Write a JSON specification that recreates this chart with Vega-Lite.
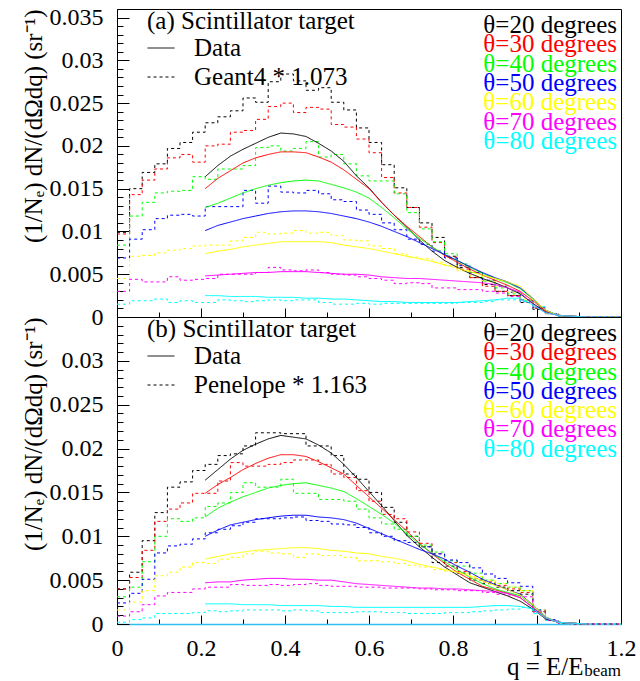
{
"$schema":"https://vega.github.io/schema/vega-lite/v6.json",
"background":"white",
"padding":{"left":20,"top":5,"right":5,"bottom":0},
"config":{"font":"Liberation Serif","view":{"stroke":"black","strokeWidth":1},
"axis":{"grid":false,"labelFont":"Liberation Serif","labelFontSize":24,"labelColor":"black","tickColor":"black","tickWidth":1,"domainColor":"black","titleFont":"Liberation Serif","titleFontSize":25,"titleFontWeight":"normal","titleColor":"black","labelOverlap":false,"labelFlush":false,"labelBound":false},
"legend":{"labelFont":"Liberation Serif","titleFont":"Liberation Serif"}},
"datasets":{
"keys":[{"a":20,"t":"θ=20 degrees"},{"a":30,"t":"θ=30 degrees"},{"a":40,"t":"θ=40 degrees"},{"a":50,"t":"θ=50 degrees"},{"a":60,"t":"θ=60 degrees"},{"a":70,"t":"θ=70 degrees"},{"a":80,"t":"θ=80 degrees"}],
"topSim":[
{"q":0,"v":0.0099,"a":20},{"q":0.03,"v":0.015,"a":20},{"q":0.06,"v":0.0169,"a":20},{"q":0.09,"v":0.0179,"a":20},{"q":0.12,"v":0.0197,"a":20},{"q":0.15,"v":0.0204,"a":20},{"q":0.18,"v":0.0216,"a":20},{"q":0.21,"v":0.0227,"a":20},{"q":0.24,"v":0.0234,"a":20},{"q":0.27,"v":0.0241,"a":20},{"q":0.3,"v":0.0256,"a":20},{"q":0.33,"v":0.0251,"a":20},{"q":0.36,"v":0.0275,"a":20},{"q":0.39,"v":0.0284,"a":20},{"q":0.42,"v":0.0276,"a":20},{"q":0.45,"v":0.0265,"a":20},{"q":0.48,"v":0.0268,"a":20},{"q":0.51,"v":0.0251,"a":20},{"q":0.54,"v":0.0242,"a":20},{"q":0.57,"v":0.0221,"a":20},{"q":0.6,"v":0.0204,"a":20},{"q":0.63,"v":0.0178,"a":20},{"q":0.66,"v":0.0151,"a":20},{"q":0.69,"v":0.0128,"a":20},{"q":0.72,"v":0.011,"a":20},{"q":0.75,"v":0.0093,"a":20},{"q":0.78,"v":0.0071,"a":20},{"q":0.81,"v":0.0058,"a":20},{"q":0.84,"v":0.0046,"a":20},{"q":0.87,"v":0.0038,"a":20},{"q":0.9,"v":0.003,"a":20},{"q":0.93,"v":0.0025,"a":20},{"q":0.96,"v":0.0017,"a":20},{"q":0.99,"v":0.0009,"a":20},{"q":1.02,"v":0.0004,"a":20},{"q":1.05,"v":0.0001,"a":20},{"q":1.08,"v":0,"a":20},{"q":1.2,"v":0,"a":20},
{"q":0,"v":0.0097,"a":30},{"q":0.03,"v":0.0143,"a":30},{"q":0.06,"v":0.016,"a":30},{"q":0.09,"v":0.0173,"a":30},{"q":0.12,"v":0.0186,"a":30},{"q":0.15,"v":0.019,"a":30},{"q":0.18,"v":0.0181,"a":30},{"q":0.21,"v":0.02,"a":30},{"q":0.24,"v":0.0202,"a":30},{"q":0.27,"v":0.0216,"a":30},{"q":0.3,"v":0.0218,"a":30},{"q":0.33,"v":0.0231,"a":30},{"q":0.36,"v":0.0246,"a":30},{"q":0.39,"v":0.025,"a":30},{"q":0.42,"v":0.0239,"a":30},{"q":0.45,"v":0.0245,"a":30},{"q":0.48,"v":0.0243,"a":30},{"q":0.51,"v":0.0225,"a":30},{"q":0.54,"v":0.0222,"a":30},{"q":0.57,"v":0.0208,"a":30},{"q":0.6,"v":0.0192,"a":30},{"q":0.63,"v":0.0163,"a":30},{"q":0.66,"v":0.0145,"a":30},{"q":0.69,"v":0.0128,"a":30},{"q":0.72,"v":0.0105,"a":30},{"q":0.75,"v":0.0087,"a":30},{"q":0.78,"v":0.007,"a":30},{"q":0.81,"v":0.0056,"a":30},{"q":0.84,"v":0.0046,"a":30},{"q":0.87,"v":0.0036,"a":30},{"q":0.9,"v":0.003,"a":30},{"q":0.93,"v":0.0025,"a":30},{"q":0.96,"v":0.0018,"a":30},{"q":0.99,"v":0.001,"a":30},{"q":1.02,"v":0.0004,"a":30},{"q":1.05,"v":0.0001,"a":30},{"q":1.08,"v":0,"a":30},{"q":1.2,"v":0,"a":30},
{"q":0,"v":0.0084,"a":40},{"q":0.03,"v":0.0118,"a":40},{"q":0.06,"v":0.0134,"a":40},{"q":0.09,"v":0.0145,"a":40},{"q":0.12,"v":0.0147,"a":40},{"q":0.15,"v":0.0148,"a":40},{"q":0.18,"v":0.0164,"a":40},{"q":0.21,"v":0.0161,"a":40},{"q":0.24,"v":0.0173,"a":40},{"q":0.27,"v":0.0173,"a":40},{"q":0.3,"v":0.0177,"a":40},{"q":0.33,"v":0.0198,"a":40},{"q":0.36,"v":0.02,"a":40},{"q":0.39,"v":0.0194,"a":40},{"q":0.42,"v":0.0197,"a":40},{"q":0.45,"v":0.0205,"a":40},{"q":0.48,"v":0.0187,"a":40},{"q":0.51,"v":0.019,"a":40},{"q":0.54,"v":0.0179,"a":40},{"q":0.57,"v":0.0165,"a":40},{"q":0.6,"v":0.0159,"a":40},{"q":0.63,"v":0.0159,"a":40},{"q":0.66,"v":0.0144,"a":40},{"q":0.69,"v":0.0122,"a":40},{"q":0.72,"v":0.0103,"a":40},{"q":0.75,"v":0.0088,"a":40},{"q":0.78,"v":0.0074,"a":40},{"q":0.81,"v":0.0062,"a":40},{"q":0.84,"v":0.0052,"a":40},{"q":0.87,"v":0.0042,"a":40},{"q":0.9,"v":0.0034,"a":40},{"q":0.93,"v":0.0027,"a":40},{"q":0.96,"v":0.0019,"a":40},{"q":0.99,"v":0.0011,"a":40},{"q":1.02,"v":0.0004,"a":40},{"q":1.05,"v":0.0001,"a":40},{"q":1.08,"v":0,"a":40},{"q":1.2,"v":0,"a":40},
{"q":0,"v":0.0069,"a":50},{"q":0.03,"v":0.0091,"a":50},{"q":0.06,"v":0.0102,"a":50},{"q":0.09,"v":0.0115,"a":50},{"q":0.12,"v":0.0119,"a":50},{"q":0.15,"v":0.012,"a":50},{"q":0.18,"v":0.0118,"a":50},{"q":0.21,"v":0.0129,"a":50},{"q":0.24,"v":0.0129,"a":50},{"q":0.27,"v":0.0129,"a":50},{"q":0.3,"v":0.0148,"a":50},{"q":0.33,"v":0.0133,"a":50},{"q":0.36,"v":0.0153,"a":50},{"q":0.39,"v":0.0146,"a":50},{"q":0.42,"v":0.0145,"a":50},{"q":0.45,"v":0.0148,"a":50},{"q":0.48,"v":0.0144,"a":50},{"q":0.51,"v":0.0137,"a":50},{"q":0.54,"v":0.0135,"a":50},{"q":0.57,"v":0.0125,"a":50},{"q":0.6,"v":0.012,"a":50},{"q":0.63,"v":0.011,"a":50},{"q":0.66,"v":0.0102,"a":50},{"q":0.69,"v":0.0091,"a":50},{"q":0.72,"v":0.0085,"a":50},{"q":0.75,"v":0.0077,"a":50},{"q":0.78,"v":0.0069,"a":50},{"q":0.81,"v":0.006,"a":50},{"q":0.84,"v":0.0052,"a":50},{"q":0.87,"v":0.0043,"a":50},{"q":0.9,"v":0.0036,"a":50},{"q":0.93,"v":0.0029,"a":50},{"q":0.96,"v":0.002,"a":50},{"q":0.99,"v":0.0011,"a":50},{"q":1.02,"v":0.0004,"a":50},{"q":1.05,"v":0.0001,"a":50},{"q":1.08,"v":0,"a":50},{"q":1.2,"v":0,"a":50},
{"q":0,"v":0.0045,"a":60},{"q":0.03,"v":0.0071,"a":60},{"q":0.06,"v":0.0072,"a":60},{"q":0.09,"v":0.0075,"a":60},{"q":0.12,"v":0.0078,"a":60},{"q":0.15,"v":0.008,"a":60},{"q":0.18,"v":0.0083,"a":60},{"q":0.21,"v":0.0084,"a":60},{"q":0.24,"v":0.0084,"a":60},{"q":0.27,"v":0.0089,"a":60},{"q":0.3,"v":0.0093,"a":60},{"q":0.33,"v":0.0099,"a":60},{"q":0.36,"v":0.0097,"a":60},{"q":0.39,"v":0.0098,"a":60},{"q":0.42,"v":0.0101,"a":60},{"q":0.45,"v":0.0098,"a":60},{"q":0.48,"v":0.0099,"a":60},{"q":0.51,"v":0.0095,"a":60},{"q":0.54,"v":0.009,"a":60},{"q":0.57,"v":0.0089,"a":60},{"q":0.6,"v":0.0083,"a":60},{"q":0.63,"v":0.008,"a":60},{"q":0.66,"v":0.0074,"a":60},{"q":0.69,"v":0.007,"a":60},{"q":0.72,"v":0.0068,"a":60},{"q":0.75,"v":0.0064,"a":60},{"q":0.78,"v":0.006,"a":60},{"q":0.81,"v":0.0054,"a":60},{"q":0.84,"v":0.0048,"a":60},{"q":0.87,"v":0.0042,"a":60},{"q":0.9,"v":0.0036,"a":60},{"q":0.93,"v":0.0029,"a":60},{"q":0.96,"v":0.0021,"a":60},{"q":0.99,"v":0.0012,"a":60},{"q":1.02,"v":0.0004,"a":60},{"q":1.05,"v":0.0001,"a":60},{"q":1.08,"v":0,"a":60},{"q":1.2,"v":0,"a":60},
{"q":0,"v":0.003,"a":70},{"q":0.03,"v":0.0044,"a":70},{"q":0.06,"v":0.0041,"a":70},{"q":0.09,"v":0.0041,"a":70},{"q":0.12,"v":0.0047,"a":70},{"q":0.15,"v":0.0043,"a":70},{"q":0.18,"v":0.0044,"a":70},{"q":0.21,"v":0.0045,"a":70},{"q":0.24,"v":0.005,"a":70},{"q":0.27,"v":0.005,"a":70},{"q":0.3,"v":0.005,"a":70},{"q":0.33,"v":0.0052,"a":70},{"q":0.36,"v":0.0058,"a":70},{"q":0.39,"v":0.0055,"a":70},{"q":0.42,"v":0.0054,"a":70},{"q":0.45,"v":0.0055,"a":70},{"q":0.48,"v":0.0052,"a":70},{"q":0.51,"v":0.005,"a":70},{"q":0.54,"v":0.0049,"a":70},{"q":0.57,"v":0.0047,"a":70},{"q":0.6,"v":0.0045,"a":70},{"q":0.63,"v":0.0043,"a":70},{"q":0.66,"v":0.0039,"a":70},{"q":0.69,"v":0.004,"a":70},{"q":0.72,"v":0.0039,"a":70},{"q":0.75,"v":0.0034,"a":70},{"q":0.78,"v":0.0034,"a":70},{"q":0.81,"v":0.0032,"a":70},{"q":0.84,"v":0.0032,"a":70},{"q":0.87,"v":0.003,"a":70},{"q":0.9,"v":0.0028,"a":70},{"q":0.93,"v":0.0024,"a":70},{"q":0.96,"v":0.0018,"a":70},{"q":0.99,"v":0.0011,"a":70},{"q":1.02,"v":0.0004,"a":70},{"q":1.05,"v":0.0001,"a":70},{"q":1.08,"v":0,"a":70},{"q":1.2,"v":0,"a":70},
{"q":0,"v":0.0015,"a":80},{"q":0.03,"v":0.0019,"a":80},{"q":0.06,"v":0.0019,"a":80},{"q":0.09,"v":0.0021,"a":80},{"q":0.12,"v":0.0017,"a":80},{"q":0.15,"v":0.0019,"a":80},{"q":0.18,"v":0.0017,"a":80},{"q":0.21,"v":0.0017,"a":80},{"q":0.24,"v":0.002,"a":80},{"q":0.27,"v":0.0019,"a":80},{"q":0.3,"v":0.0018,"a":80},{"q":0.33,"v":0.0019,"a":80},{"q":0.36,"v":0.002,"a":80},{"q":0.39,"v":0.0019,"a":80},{"q":0.42,"v":0.002,"a":80},{"q":0.45,"v":0.002,"a":80},{"q":0.48,"v":0.0017,"a":80},{"q":0.51,"v":0.0015,"a":80},{"q":0.54,"v":0.0015,"a":80},{"q":0.57,"v":0.0016,"a":80},{"q":0.6,"v":0.0015,"a":80},{"q":0.63,"v":0.0016,"a":80},{"q":0.66,"v":0.0016,"a":80},{"q":0.69,"v":0.0016,"a":80},{"q":0.72,"v":0.0016,"a":80},{"q":0.75,"v":0.0016,"a":80},{"q":0.78,"v":0.0016,"a":80},{"q":0.81,"v":0.0017,"a":80},{"q":0.84,"v":0.0017,"a":80},{"q":0.87,"v":0.0018,"a":80},{"q":0.9,"v":0.002,"a":80},{"q":0.93,"v":0.002,"a":80},{"q":0.96,"v":0.0018,"a":80},{"q":0.99,"v":0.0012,"a":80},{"q":1.02,"v":0.0004,"a":80},{"q":1.05,"v":0.0001,"a":80},{"q":1.08,"v":0,"a":80},{"q":1.2,"v":0,"a":80}
],
"botSim":[
{"q":0,"v":0.004,"a":20},{"q":0.03,"v":0.0059,"a":20},{"q":0.06,"v":0.0095,"a":20},{"q":0.09,"v":0.0127,"a":20},{"q":0.12,"v":0.0156,"a":20},{"q":0.15,"v":0.0162,"a":20},{"q":0.18,"v":0.0175,"a":20},{"q":0.21,"v":0.0182,"a":20},{"q":0.24,"v":0.0192,"a":20},{"q":0.27,"v":0.0194,"a":20},{"q":0.3,"v":0.0203,"a":20},{"q":0.33,"v":0.0218,"a":20},{"q":0.36,"v":0.0218,"a":20},{"q":0.39,"v":0.0217,"a":20},{"q":0.42,"v":0.0217,"a":20},{"q":0.45,"v":0.0203,"a":20},{"q":0.48,"v":0.0203,"a":20},{"q":0.51,"v":0.0192,"a":20},{"q":0.54,"v":0.0171,"a":20},{"q":0.57,"v":0.0165,"a":20},{"q":0.6,"v":0.015,"a":20},{"q":0.63,"v":0.0133,"a":20},{"q":0.66,"v":0.0116,"a":20},{"q":0.69,"v":0.01,"a":20},{"q":0.72,"v":0.0088,"a":20},{"q":0.75,"v":0.007,"a":20},{"q":0.78,"v":0.0066,"a":20},{"q":0.81,"v":0.0058,"a":20},{"q":0.84,"v":0.005,"a":20},{"q":0.87,"v":0.0046,"a":20},{"q":0.9,"v":0.0042,"a":20},{"q":0.93,"v":0.0038,"a":20},{"q":0.96,"v":0.0034,"a":20},{"q":0.99,"v":0.0014,"a":20},{"q":1.02,"v":0.0004,"a":20},{"q":1.05,"v":0.0001,"a":20},{"q":1.08,"v":0,"a":20},{"q":1.2,"v":0,"a":20},
{"q":0,"v":0.004,"a":30},{"q":0.03,"v":0.0053,"a":30},{"q":0.06,"v":0.0084,"a":30},{"q":0.09,"v":0.0117,"a":30},{"q":0.12,"v":0.0131,"a":30},{"q":0.15,"v":0.0138,"a":30},{"q":0.18,"v":0.0149,"a":30},{"q":0.21,"v":0.0149,"a":30},{"q":0.24,"v":0.0163,"a":30},{"q":0.27,"v":0.0184,"a":30},{"q":0.3,"v":0.018,"a":30},{"q":0.33,"v":0.018,"a":30},{"q":0.36,"v":0.0182,"a":30},{"q":0.39,"v":0.0184,"a":30},{"q":0.42,"v":0.0187,"a":30},{"q":0.45,"v":0.0187,"a":30},{"q":0.48,"v":0.0182,"a":30},{"q":0.51,"v":0.0171,"a":30},{"q":0.54,"v":0.0167,"a":30},{"q":0.57,"v":0.0152,"a":30},{"q":0.6,"v":0.014,"a":30},{"q":0.63,"v":0.0125,"a":30},{"q":0.66,"v":0.012,"a":30},{"q":0.69,"v":0.0105,"a":30},{"q":0.72,"v":0.0092,"a":30},{"q":0.75,"v":0.008,"a":30},{"q":0.78,"v":0.007,"a":30},{"q":0.81,"v":0.006,"a":30},{"q":0.84,"v":0.0052,"a":30},{"q":0.87,"v":0.0048,"a":30},{"q":0.9,"v":0.0044,"a":30},{"q":0.93,"v":0.004,"a":30},{"q":0.96,"v":0.0036,"a":30},{"q":0.99,"v":0.0014,"a":30},{"q":1.02,"v":0.0004,"a":30},{"q":1.05,"v":0.0001,"a":30},{"q":1.08,"v":0,"a":30},{"q":1.2,"v":0,"a":30},
{"q":0,"v":0.0031,"a":40},{"q":0.03,"v":0.0042,"a":40},{"q":0.06,"v":0.0071,"a":40},{"q":0.09,"v":0.01,"a":40},{"q":0.12,"v":0.012,"a":40},{"q":0.15,"v":0.0117,"a":40},{"q":0.18,"v":0.0121,"a":40},{"q":0.21,"v":0.0134,"a":40},{"q":0.24,"v":0.0138,"a":40},{"q":0.27,"v":0.015,"a":40},{"q":0.3,"v":0.0161,"a":40},{"q":0.33,"v":0.0156,"a":40},{"q":0.36,"v":0.0156,"a":40},{"q":0.39,"v":0.0165,"a":40},{"q":0.42,"v":0.0149,"a":40},{"q":0.45,"v":0.0149,"a":40},{"q":0.48,"v":0.0142,"a":40},{"q":0.51,"v":0.0142,"a":40},{"q":0.54,"v":0.014,"a":40},{"q":0.57,"v":0.0131,"a":40},{"q":0.6,"v":0.0121,"a":40},{"q":0.63,"v":0.0114,"a":40},{"q":0.66,"v":0.0108,"a":40},{"q":0.69,"v":0.01,"a":40},{"q":0.72,"v":0.009,"a":40},{"q":0.75,"v":0.0082,"a":40},{"q":0.78,"v":0.0072,"a":40},{"q":0.81,"v":0.0066,"a":40},{"q":0.84,"v":0.0058,"a":40},{"q":0.87,"v":0.005,"a":40},{"q":0.9,"v":0.0046,"a":40},{"q":0.93,"v":0.0042,"a":40},{"q":0.96,"v":0.0038,"a":40},{"q":0.99,"v":0.0016,"a":40},{"q":1.02,"v":0.0004,"a":40},{"q":1.05,"v":0.0001,"a":40},{"q":1.08,"v":0,"a":40},{"q":1.2,"v":0,"a":40},
{"q":0,"v":0.0024,"a":50},{"q":0.03,"v":0.0035,"a":50},{"q":0.06,"v":0.0051,"a":50},{"q":0.09,"v":0.0081,"a":50},{"q":0.12,"v":0.0089,"a":50},{"q":0.15,"v":0.0091,"a":50},{"q":0.18,"v":0.0097,"a":50},{"q":0.21,"v":0.0104,"a":50},{"q":0.24,"v":0.0108,"a":50},{"q":0.27,"v":0.0112,"a":50},{"q":0.3,"v":0.0116,"a":50},{"q":0.33,"v":0.012,"a":50},{"q":0.36,"v":0.012,"a":50},{"q":0.39,"v":0.0121,"a":50},{"q":0.42,"v":0.0122,"a":50},{"q":0.45,"v":0.0118,"a":50},{"q":0.48,"v":0.0117,"a":50},{"q":0.51,"v":0.0114,"a":50},{"q":0.54,"v":0.0113,"a":50},{"q":0.57,"v":0.011,"a":50},{"q":0.6,"v":0.0104,"a":50},{"q":0.63,"v":0.01,"a":50},{"q":0.66,"v":0.0095,"a":50},{"q":0.69,"v":0.0093,"a":50},{"q":0.72,"v":0.0088,"a":50},{"q":0.75,"v":0.008,"a":50},{"q":0.78,"v":0.0073,"a":50},{"q":0.81,"v":0.007,"a":50},{"q":0.84,"v":0.0064,"a":50},{"q":0.87,"v":0.0057,"a":50},{"q":0.9,"v":0.0052,"a":50},{"q":0.93,"v":0.0047,"a":50},{"q":0.96,"v":0.0043,"a":50},{"q":0.99,"v":0.0016,"a":50},{"q":1.02,"v":0.0005,"a":50},{"q":1.05,"v":0.0001,"a":50},{"q":1.08,"v":0,"a":50},{"q":1.2,"v":0,"a":50},
{"q":0,"v":0.0016,"a":60},{"q":0.03,"v":0.0025,"a":60},{"q":0.06,"v":0.0038,"a":60},{"q":0.09,"v":0.0055,"a":60},{"q":0.12,"v":0.0059,"a":60},{"q":0.15,"v":0.0065,"a":60},{"q":0.18,"v":0.007,"a":60},{"q":0.21,"v":0.0069,"a":60},{"q":0.24,"v":0.0074,"a":60},{"q":0.27,"v":0.0076,"a":60},{"q":0.3,"v":0.008,"a":60},{"q":0.33,"v":0.0083,"a":60},{"q":0.36,"v":0.0081,"a":60},{"q":0.39,"v":0.008,"a":60},{"q":0.42,"v":0.0076,"a":60},{"q":0.45,"v":0.008,"a":60},{"q":0.48,"v":0.0078,"a":60},{"q":0.51,"v":0.0078,"a":60},{"q":0.54,"v":0.0076,"a":60},{"q":0.57,"v":0.0072,"a":60},{"q":0.6,"v":0.0072,"a":60},{"q":0.63,"v":0.0071,"a":60},{"q":0.66,"v":0.0069,"a":60},{"q":0.69,"v":0.0067,"a":60},{"q":0.72,"v":0.0065,"a":60},{"q":0.75,"v":0.0062,"a":60},{"q":0.78,"v":0.006,"a":60},{"q":0.81,"v":0.0058,"a":60},{"q":0.84,"v":0.0054,"a":60},{"q":0.87,"v":0.005,"a":60},{"q":0.9,"v":0.0046,"a":60},{"q":0.93,"v":0.0042,"a":60},{"q":0.96,"v":0.0038,"a":60},{"q":0.99,"v":0.0016,"a":60},{"q":1.02,"v":0.0004,"a":60},{"q":1.05,"v":0.0001,"a":60},{"q":1.08,"v":0,"a":60},{"q":1.2,"v":0,"a":60},
{"q":0,"v":0.0009,"a":70},{"q":0.03,"v":0.0014,"a":70},{"q":0.06,"v":0.0022,"a":70},{"q":0.09,"v":0.0032,"a":70},{"q":0.12,"v":0.0036,"a":70},{"q":0.15,"v":0.0036,"a":70},{"q":0.18,"v":0.004,"a":70},{"q":0.21,"v":0.0042,"a":70},{"q":0.24,"v":0.0042,"a":70},{"q":0.27,"v":0.0045,"a":70},{"q":0.3,"v":0.0044,"a":70},{"q":0.33,"v":0.0044,"a":70},{"q":0.36,"v":0.0045,"a":70},{"q":0.39,"v":0.0044,"a":70},{"q":0.42,"v":0.0045,"a":70},{"q":0.45,"v":0.0046,"a":70},{"q":0.48,"v":0.0044,"a":70},{"q":0.51,"v":0.0043,"a":70},{"q":0.54,"v":0.0043,"a":70},{"q":0.57,"v":0.0042,"a":70},{"q":0.6,"v":0.0042,"a":70},{"q":0.63,"v":0.0041,"a":70},{"q":0.66,"v":0.0041,"a":70},{"q":0.69,"v":0.0041,"a":70},{"q":0.72,"v":0.004,"a":70},{"q":0.75,"v":0.0039,"a":70},{"q":0.78,"v":0.0039,"a":70},{"q":0.81,"v":0.0038,"a":70},{"q":0.84,"v":0.0038,"a":70},{"q":0.87,"v":0.0036,"a":70},{"q":0.9,"v":0.0034,"a":70},{"q":0.93,"v":0.0033,"a":70},{"q":0.96,"v":0.0031,"a":70},{"q":0.99,"v":0.0014,"a":70},{"q":1.02,"v":0.0004,"a":70},{"q":1.05,"v":0.0001,"a":70},{"q":1.08,"v":0,"a":70},{"q":1.2,"v":0,"a":70},
{"q":0,"v":0.0002,"a":80},{"q":0.03,"v":0.0005,"a":80},{"q":0.06,"v":0.0007,"a":80},{"q":0.09,"v":0.0012,"a":80},{"q":0.12,"v":0.0012,"a":80},{"q":0.15,"v":0.0012,"a":80},{"q":0.18,"v":0.0013,"a":80},{"q":0.21,"v":0.0015,"a":80},{"q":0.24,"v":0.0014,"a":80},{"q":0.27,"v":0.0015,"a":80},{"q":0.3,"v":0.0016,"a":80},{"q":0.33,"v":0.0016,"a":80},{"q":0.36,"v":0.0016,"a":80},{"q":0.39,"v":0.0015,"a":80},{"q":0.42,"v":0.0016,"a":80},{"q":0.45,"v":0.0015,"a":80},{"q":0.48,"v":0.0013,"a":80},{"q":0.51,"v":0.0013,"a":80},{"q":0.54,"v":0.0013,"a":80},{"q":0.57,"v":0.0014,"a":80},{"q":0.6,"v":0.0014,"a":80},{"q":0.63,"v":0.0013,"a":80},{"q":0.66,"v":0.0013,"a":80},{"q":0.69,"v":0.0012,"a":80},{"q":0.72,"v":0.0012,"a":80},{"q":0.75,"v":0.0012,"a":80},{"q":0.78,"v":0.0013,"a":80},{"q":0.81,"v":0.0013,"a":80},{"q":0.84,"v":0.0014,"a":80},{"q":0.87,"v":0.0015,"a":80},{"q":0.9,"v":0.0016,"a":80},{"q":0.93,"v":0.0017,"a":80},{"q":0.96,"v":0.0019,"a":80},{"q":0.99,"v":0.0012,"a":80},{"q":1.02,"v":0.0004,"a":80},{"q":1.05,"v":0.0001,"a":80},{"q":1.08,"v":0,"a":80},{"q":1.2,"v":0,"a":80}
],
"topData":[
{"q":0.21,"v":0.0164,"a":20},{"q":0.24,"v":0.0177,"a":20},{"q":0.27,"v":0.0188,"a":20},{"q":0.3,"v":0.0196,"a":20},{"q":0.33,"v":0.0203,"a":20},{"q":0.36,"v":0.021,"a":20},{"q":0.39,"v":0.0215,"a":20},{"q":0.42,"v":0.0214,"a":20},{"q":0.45,"v":0.0211,"a":20},{"q":0.48,"v":0.0203,"a":20},{"q":0.51,"v":0.0194,"a":20},{"q":0.54,"v":0.0182,"a":20},{"q":0.57,"v":0.0165,"a":20},{"q":0.6,"v":0.0151,"a":20},{"q":0.63,"v":0.0134,"a":20},{"q":0.66,"v":0.0119,"a":20},{"q":0.69,"v":0.0105,"a":20},{"q":0.72,"v":0.009,"a":20},{"q":0.75,"v":0.0077,"a":20},{"q":0.78,"v":0.0066,"a":20},{"q":0.81,"v":0.0058,"a":20},{"q":0.84,"v":0.0051,"a":20},{"q":0.87,"v":0.0045,"a":20},{"q":0.9,"v":0.004,"a":20},{"q":0.93,"v":0.0034,"a":20},{"q":0.96,"v":0.0027,"a":20},{"q":0.99,"v":0.0016,"a":20},{"q":1.02,"v":0.0006,"a":20},{"q":1.05,"v":0.0002,"a":20},{"q":1.08,"v":0.0001,"a":20},{"q":1.12,"v":0,"a":20},
{"q":0.21,"v":0.015,"a":30},{"q":0.24,"v":0.0162,"a":30},{"q":0.27,"v":0.0171,"a":30},{"q":0.3,"v":0.018,"a":30},{"q":0.33,"v":0.0186,"a":30},{"q":0.36,"v":0.019,"a":30},{"q":0.39,"v":0.0193,"a":30},{"q":0.42,"v":0.0193,"a":30},{"q":0.45,"v":0.0192,"a":30},{"q":0.48,"v":0.0187,"a":30},{"q":0.51,"v":0.0181,"a":30},{"q":0.54,"v":0.0172,"a":30},{"q":0.57,"v":0.0161,"a":30},{"q":0.6,"v":0.015,"a":30},{"q":0.63,"v":0.0134,"a":30},{"q":0.66,"v":0.0119,"a":30},{"q":0.69,"v":0.0106,"a":30},{"q":0.72,"v":0.0094,"a":30},{"q":0.75,"v":0.0082,"a":30},{"q":0.78,"v":0.0072,"a":30},{"q":0.81,"v":0.0064,"a":30},{"q":0.84,"v":0.0056,"a":30},{"q":0.87,"v":0.0049,"a":30},{"q":0.9,"v":0.0043,"a":30},{"q":0.93,"v":0.0037,"a":30},{"q":0.96,"v":0.003,"a":30},{"q":0.99,"v":0.0019,"a":30},{"q":1.02,"v":0.0007,"a":30},{"q":1.05,"v":0.0002,"a":30},{"q":1.08,"v":0.0001,"a":30},{"q":1.12,"v":0,"a":30},
{"q":0.21,"v":0.0128,"a":40},{"q":0.24,"v":0.0133,"a":40},{"q":0.27,"v":0.0139,"a":40},{"q":0.3,"v":0.0145,"a":40},{"q":0.33,"v":0.015,"a":40},{"q":0.36,"v":0.0154,"a":40},{"q":0.39,"v":0.0157,"a":40},{"q":0.42,"v":0.0159,"a":40},{"q":0.45,"v":0.016,"a":40},{"q":0.48,"v":0.0159,"a":40},{"q":0.51,"v":0.0155,"a":40},{"q":0.54,"v":0.0151,"a":40},{"q":0.57,"v":0.0146,"a":40},{"q":0.6,"v":0.0139,"a":40},{"q":0.63,"v":0.0128,"a":40},{"q":0.66,"v":0.0116,"a":40},{"q":0.69,"v":0.0103,"a":40},{"q":0.72,"v":0.0092,"a":40},{"q":0.75,"v":0.0082,"a":40},{"q":0.78,"v":0.0073,"a":40},{"q":0.81,"v":0.0066,"a":40},{"q":0.84,"v":0.0058,"a":40},{"q":0.87,"v":0.0051,"a":40},{"q":0.9,"v":0.0045,"a":40},{"q":0.93,"v":0.004,"a":40},{"q":0.96,"v":0.0033,"a":40},{"q":0.99,"v":0.0021,"a":40},{"q":1.02,"v":0.0008,"a":40},{"q":1.05,"v":0.0002,"a":40},{"q":1.08,"v":0.0001,"a":40},{"q":1.12,"v":0,"a":40},
{"q":0.21,"v":0.0101,"a":50},{"q":0.24,"v":0.0107,"a":50},{"q":0.27,"v":0.0111,"a":50},{"q":0.3,"v":0.0115,"a":50},{"q":0.33,"v":0.0118,"a":50},{"q":0.36,"v":0.0121,"a":50},{"q":0.39,"v":0.0123,"a":50},{"q":0.42,"v":0.0124,"a":50},{"q":0.45,"v":0.0124,"a":50},{"q":0.48,"v":0.0123,"a":50},{"q":0.51,"v":0.0121,"a":50},{"q":0.54,"v":0.0118,"a":50},{"q":0.57,"v":0.0115,"a":50},{"q":0.6,"v":0.0111,"a":50},{"q":0.63,"v":0.0106,"a":50},{"q":0.66,"v":0.01,"a":50},{"q":0.69,"v":0.0094,"a":50},{"q":0.72,"v":0.0087,"a":50},{"q":0.75,"v":0.008,"a":50},{"q":0.78,"v":0.0073,"a":50},{"q":0.81,"v":0.0066,"a":50},{"q":0.84,"v":0.0059,"a":50},{"q":0.87,"v":0.0052,"a":50},{"q":0.9,"v":0.0046,"a":50},{"q":0.93,"v":0.0041,"a":50},{"q":0.96,"v":0.0034,"a":50},{"q":0.99,"v":0.0022,"a":50},{"q":1.02,"v":0.0008,"a":50},{"q":1.05,"v":0.0002,"a":50},{"q":1.08,"v":0.0001,"a":50},{"q":1.12,"v":0,"a":50},
{"q":0.21,"v":0.0074,"a":60},{"q":0.24,"v":0.0077,"a":60},{"q":0.27,"v":0.0079,"a":60},{"q":0.3,"v":0.0082,"a":60},{"q":0.33,"v":0.0084,"a":60},{"q":0.36,"v":0.0086,"a":60},{"q":0.39,"v":0.0088,"a":60},{"q":0.42,"v":0.0088,"a":60},{"q":0.45,"v":0.0088,"a":60},{"q":0.48,"v":0.0088,"a":60},{"q":0.51,"v":0.0087,"a":60},{"q":0.54,"v":0.0084,"a":60},{"q":0.57,"v":0.0082,"a":60},{"q":0.6,"v":0.008,"a":60},{"q":0.63,"v":0.0077,"a":60},{"q":0.66,"v":0.0074,"a":60},{"q":0.69,"v":0.0071,"a":60},{"q":0.72,"v":0.0068,"a":60},{"q":0.75,"v":0.0065,"a":60},{"q":0.78,"v":0.0061,"a":60},{"q":0.81,"v":0.0057,"a":60},{"q":0.84,"v":0.0053,"a":60},{"q":0.87,"v":0.0049,"a":60},{"q":0.9,"v":0.0045,"a":60},{"q":0.93,"v":0.0041,"a":60},{"q":0.96,"v":0.0036,"a":60},{"q":0.99,"v":0.0022,"a":60},{"q":1.02,"v":0.0008,"a":60},{"q":1.05,"v":0.0002,"a":60},{"q":1.08,"v":0.0001,"a":60},{"q":1.12,"v":0,"a":60},
{"q":0.21,"v":0.0048,"a":70},{"q":0.24,"v":0.0049,"a":70},{"q":0.27,"v":0.005,"a":70},{"q":0.3,"v":0.0051,"a":70},{"q":0.33,"v":0.0052,"a":70},{"q":0.36,"v":0.0052,"a":70},{"q":0.39,"v":0.0053,"a":70},{"q":0.42,"v":0.0053,"a":70},{"q":0.45,"v":0.0053,"a":70},{"q":0.48,"v":0.0052,"a":70},{"q":0.51,"v":0.0051,"a":70},{"q":0.54,"v":0.005,"a":70},{"q":0.57,"v":0.005,"a":70},{"q":0.6,"v":0.0049,"a":70},{"q":0.63,"v":0.0047,"a":70},{"q":0.66,"v":0.0046,"a":70},{"q":0.69,"v":0.0045,"a":70},{"q":0.72,"v":0.0045,"a":70},{"q":0.75,"v":0.0044,"a":70},{"q":0.78,"v":0.0043,"a":70},{"q":0.81,"v":0.0042,"a":70},{"q":0.84,"v":0.0041,"a":70},{"q":0.87,"v":0.004,"a":70},{"q":0.9,"v":0.0038,"a":70},{"q":0.93,"v":0.0034,"a":70},{"q":0.96,"v":0.0029,"a":70},{"q":0.99,"v":0.0015,"a":70},{"q":1.02,"v":0.0005,"a":70},{"q":1.05,"v":0.0002,"a":70},{"q":1.08,"v":0.0001,"a":70},{"q":1.12,"v":0,"a":70},
{"q":0.21,"v":0.0025,"a":80},{"q":0.24,"v":0.0025,"a":80},{"q":0.27,"v":0.0024,"a":80},{"q":0.3,"v":0.0024,"a":80},{"q":0.33,"v":0.0024,"a":80},{"q":0.36,"v":0.0023,"a":80},{"q":0.39,"v":0.0023,"a":80},{"q":0.42,"v":0.0023,"a":80},{"q":0.45,"v":0.0022,"a":80},{"q":0.48,"v":0.0022,"a":80},{"q":0.51,"v":0.0021,"a":80},{"q":0.54,"v":0.0021,"a":80},{"q":0.57,"v":0.002,"a":80},{"q":0.6,"v":0.0019,"a":80},{"q":0.63,"v":0.0018,"a":80},{"q":0.66,"v":0.0018,"a":80},{"q":0.69,"v":0.0017,"a":80},{"q":0.72,"v":0.0017,"a":80},{"q":0.75,"v":0.0017,"a":80},{"q":0.78,"v":0.0017,"a":80},{"q":0.81,"v":0.0017,"a":80},{"q":0.84,"v":0.0018,"a":80},{"q":0.87,"v":0.0019,"a":80},{"q":0.9,"v":0.002,"a":80},{"q":0.93,"v":0.0022,"a":80},{"q":0.96,"v":0.0022,"a":80},{"q":0.99,"v":0.0014,"a":80},{"q":1.02,"v":0.0005,"a":80},{"q":1.05,"v":0.0002,"a":80},{"q":1.08,"v":0.0001,"a":80},{"q":1.12,"v":0,"a":80}
],
"botData":[
{"q":0.21,"v":0.0164,"a":20},{"q":0.24,"v":0.0176,"a":20},{"q":0.27,"v":0.0188,"a":20},{"q":0.3,"v":0.0198,"a":20},{"q":0.33,"v":0.0205,"a":20},{"q":0.36,"v":0.0211,"a":20},{"q":0.39,"v":0.0215,"a":20},{"q":0.42,"v":0.0213,"a":20},{"q":0.45,"v":0.0211,"a":20},{"q":0.48,"v":0.0204,"a":20},{"q":0.51,"v":0.0195,"a":20},{"q":0.54,"v":0.0182,"a":20},{"q":0.57,"v":0.0167,"a":20},{"q":0.6,"v":0.0151,"a":20},{"q":0.63,"v":0.0135,"a":20},{"q":0.66,"v":0.0118,"a":20},{"q":0.69,"v":0.0101,"a":20},{"q":0.72,"v":0.0088,"a":20},{"q":0.75,"v":0.0076,"a":20},{"q":0.78,"v":0.0065,"a":20},{"q":0.81,"v":0.0056,"a":20},{"q":0.84,"v":0.0047,"a":20},{"q":0.87,"v":0.0042,"a":20},{"q":0.9,"v":0.0037,"a":20},{"q":0.93,"v":0.0032,"a":20},{"q":0.96,"v":0.0026,"a":20},{"q":0.99,"v":0.0017,"a":20},{"q":1.02,"v":0.0006,"a":20},{"q":1.05,"v":0.0002,"a":20},{"q":1.08,"v":0.0001,"a":20},{"q":1.12,"v":0,"a":20},
{"q":0.21,"v":0.0149,"a":30},{"q":0.24,"v":0.0159,"a":30},{"q":0.27,"v":0.0167,"a":30},{"q":0.3,"v":0.0176,"a":30},{"q":0.33,"v":0.0183,"a":30},{"q":0.36,"v":0.0189,"a":30},{"q":0.39,"v":0.0193,"a":30},{"q":0.42,"v":0.0193,"a":30},{"q":0.45,"v":0.0191,"a":30},{"q":0.48,"v":0.0185,"a":30},{"q":0.51,"v":0.0178,"a":30},{"q":0.54,"v":0.0171,"a":30},{"q":0.57,"v":0.0158,"a":30},{"q":0.6,"v":0.0145,"a":30},{"q":0.63,"v":0.0132,"a":30},{"q":0.66,"v":0.0119,"a":30},{"q":0.69,"v":0.0106,"a":30},{"q":0.72,"v":0.0092,"a":30},{"q":0.75,"v":0.008,"a":30},{"q":0.78,"v":0.0069,"a":30},{"q":0.81,"v":0.0059,"a":30},{"q":0.84,"v":0.0051,"a":30},{"q":0.87,"v":0.0043,"a":30},{"q":0.9,"v":0.0039,"a":30},{"q":0.93,"v":0.0035,"a":30},{"q":0.96,"v":0.003,"a":30},{"q":0.99,"v":0.0019,"a":30},{"q":1.02,"v":0.0007,"a":30},{"q":1.05,"v":0.0002,"a":30},{"q":1.08,"v":0.0001,"a":30},{"q":1.12,"v":0,"a":30},
{"q":0.21,"v":0.0122,"a":40},{"q":0.24,"v":0.0132,"a":40},{"q":0.27,"v":0.0139,"a":40},{"q":0.3,"v":0.0145,"a":40},{"q":0.33,"v":0.015,"a":40},{"q":0.36,"v":0.0155,"a":40},{"q":0.39,"v":0.0158,"a":40},{"q":0.42,"v":0.016,"a":40},{"q":0.45,"v":0.0161,"a":40},{"q":0.48,"v":0.0158,"a":40},{"q":0.51,"v":0.0155,"a":40},{"q":0.54,"v":0.0151,"a":40},{"q":0.57,"v":0.0143,"a":40},{"q":0.6,"v":0.0134,"a":40},{"q":0.63,"v":0.0125,"a":40},{"q":0.66,"v":0.0115,"a":40},{"q":0.69,"v":0.0103,"a":40},{"q":0.72,"v":0.0091,"a":40},{"q":0.75,"v":0.0081,"a":40},{"q":0.78,"v":0.0071,"a":40},{"q":0.81,"v":0.0062,"a":40},{"q":0.84,"v":0.0053,"a":40},{"q":0.87,"v":0.0046,"a":40},{"q":0.9,"v":0.004,"a":40},{"q":0.93,"v":0.0036,"a":40},{"q":0.96,"v":0.0032,"a":40},{"q":0.99,"v":0.0021,"a":40},{"q":1.02,"v":0.0008,"a":40},{"q":1.05,"v":0.0002,"a":40},{"q":1.08,"v":0.0001,"a":40},{"q":1.12,"v":0,"a":40},
{"q":0.21,"v":0.01,"a":50},{"q":0.24,"v":0.0107,"a":50},{"q":0.27,"v":0.0113,"a":50},{"q":0.3,"v":0.0116,"a":50},{"q":0.33,"v":0.0119,"a":50},{"q":0.36,"v":0.0121,"a":50},{"q":0.39,"v":0.0123,"a":50},{"q":0.42,"v":0.0124,"a":50},{"q":0.45,"v":0.0124,"a":50},{"q":0.48,"v":0.0122,"a":50},{"q":0.51,"v":0.0121,"a":50},{"q":0.54,"v":0.0119,"a":50},{"q":0.57,"v":0.0115,"a":50},{"q":0.6,"v":0.0109,"a":50},{"q":0.63,"v":0.0103,"a":50},{"q":0.66,"v":0.0097,"a":50},{"q":0.69,"v":0.0091,"a":50},{"q":0.72,"v":0.0085,"a":50},{"q":0.75,"v":0.008,"a":50},{"q":0.78,"v":0.0074,"a":50},{"q":0.81,"v":0.0066,"a":50},{"q":0.84,"v":0.0059,"a":50},{"q":0.87,"v":0.0051,"a":50},{"q":0.9,"v":0.0045,"a":50},{"q":0.93,"v":0.0039,"a":50},{"q":0.96,"v":0.0034,"a":50},{"q":0.99,"v":0.0022,"a":50},{"q":1.02,"v":0.0008,"a":50},{"q":1.05,"v":0.0002,"a":50},{"q":1.08,"v":0.0001,"a":50},{"q":1.12,"v":0,"a":50},
{"q":0.21,"v":0.0074,"a":60},{"q":0.24,"v":0.0077,"a":60},{"q":0.27,"v":0.008,"a":60},{"q":0.3,"v":0.0082,"a":60},{"q":0.33,"v":0.0084,"a":60},{"q":0.36,"v":0.0085,"a":60},{"q":0.39,"v":0.0086,"a":60},{"q":0.42,"v":0.0087,"a":60},{"q":0.45,"v":0.0087,"a":60},{"q":0.48,"v":0.0086,"a":60},{"q":0.51,"v":0.0084,"a":60},{"q":0.54,"v":0.0083,"a":60},{"q":0.57,"v":0.0081,"a":60},{"q":0.6,"v":0.008,"a":60},{"q":0.63,"v":0.0077,"a":60},{"q":0.66,"v":0.0075,"a":60},{"q":0.69,"v":0.0072,"a":60},{"q":0.72,"v":0.0068,"a":60},{"q":0.75,"v":0.0065,"a":60},{"q":0.78,"v":0.0062,"a":60},{"q":0.81,"v":0.0059,"a":60},{"q":0.84,"v":0.0055,"a":60},{"q":0.87,"v":0.0049,"a":60},{"q":0.9,"v":0.0044,"a":60},{"q":0.93,"v":0.0039,"a":60},{"q":0.96,"v":0.0033,"a":60},{"q":0.99,"v":0.0022,"a":60},{"q":1.02,"v":0.0008,"a":60},{"q":1.05,"v":0.0002,"a":60},{"q":1.08,"v":0.0001,"a":60},{"q":1.12,"v":0,"a":60},
{"q":0.21,"v":0.0047,"a":70},{"q":0.24,"v":0.0048,"a":70},{"q":0.27,"v":0.0048,"a":70},{"q":0.3,"v":0.005,"a":70},{"q":0.33,"v":0.0051,"a":70},{"q":0.36,"v":0.0052,"a":70},{"q":0.39,"v":0.0052,"a":70},{"q":0.42,"v":0.0051,"a":70},{"q":0.45,"v":0.0051,"a":70},{"q":0.48,"v":0.005,"a":70},{"q":0.51,"v":0.005,"a":70},{"q":0.54,"v":0.0048,"a":70},{"q":0.57,"v":0.0046,"a":70},{"q":0.6,"v":0.0045,"a":70},{"q":0.63,"v":0.0044,"a":70},{"q":0.66,"v":0.0043,"a":70},{"q":0.69,"v":0.0042,"a":70},{"q":0.72,"v":0.0041,"a":70},{"q":0.75,"v":0.0041,"a":70},{"q":0.78,"v":0.004,"a":70},{"q":0.81,"v":0.004,"a":70},{"q":0.84,"v":0.0039,"a":70},{"q":0.87,"v":0.0038,"a":70},{"q":0.9,"v":0.0037,"a":70},{"q":0.93,"v":0.0035,"a":70},{"q":0.96,"v":0.003,"a":70},{"q":0.99,"v":0.0019,"a":70},{"q":1.02,"v":0.0007,"a":70},{"q":1.05,"v":0.0002,"a":70},{"q":1.08,"v":0.0001,"a":70},{"q":1.12,"v":0,"a":70},
{"q":0.21,"v":0.0023,"a":80},{"q":0.24,"v":0.0023,"a":80},{"q":0.27,"v":0.0023,"a":80},{"q":0.3,"v":0.0022,"a":80},{"q":0.33,"v":0.0022,"a":80},{"q":0.36,"v":0.0022,"a":80},{"q":0.39,"v":0.0021,"a":80},{"q":0.42,"v":0.0021,"a":80},{"q":0.45,"v":0.0021,"a":80},{"q":0.48,"v":0.0021,"a":80},{"q":0.51,"v":0.002,"a":80},{"q":0.54,"v":0.002,"a":80},{"q":0.57,"v":0.0019,"a":80},{"q":0.6,"v":0.0019,"a":80},{"q":0.63,"v":0.0019,"a":80},{"q":0.66,"v":0.0019,"a":80},{"q":0.69,"v":0.0019,"a":80},{"q":0.72,"v":0.0019,"a":80},{"q":0.75,"v":0.0019,"a":80},{"q":0.78,"v":0.0019,"a":80},{"q":0.81,"v":0.0019,"a":80},{"q":0.84,"v":0.0019,"a":80},{"q":0.87,"v":0.002,"a":80},{"q":0.9,"v":0.0021,"a":80},{"q":0.93,"v":0.0021,"a":80},{"q":0.96,"v":0.002,"a":80},{"q":0.99,"v":0.0017,"a":80},{"q":1.02,"v":0.0007,"a":80},{"q":1.05,"v":0.0002,"a":80},{"q":1.08,"v":0.0001,"a":80},{"q":1.12,"v":0,"a":80}
]
},
"spacing":0,
"bounds":"flush",
"resolve":{"scale":{"x":"independent","y":"independent","color":"shared","strokeDash":"independent"},"legend":{"color":"independent","strokeDash":"independent"}},
"vconcat":[
{"width":504,"height":308,
"resolve":{"scale":{"y":"independent"}},
"layer":[
{"encoding":{
"x":{"field":"q","type":"quantitative","scale":{"domain":[0,1.2],"nice":false,"zero":false},
"axis":{"values":[0,0.05,0.1,0.15,0.2,0.25,0.3,0.35,0.4,0.45,0.5,0.55,0.6,0.65,0.7,0.75,0.8,0.85,0.9,0.95,1,1.05,1.1,1.15,1.2],"labels":false,"title":null,
"tickSize":{"condition":{"test":"abs(datum.value*5-round(datum.value*5))<1e-6","value":-9},"value":-5}}},
"y":{"field":"v","type":"quantitative","scale":{"domain":[0,0.036],"nice":false},
"axis":{"values":[0,0.001,0.002,0.003,0.004,0.005,0.006,0.007,0.008,0.009,0.01,0.011,0.012,0.013,0.014,0.015,0.016,0.017,0.018,0.019,0.02,0.021,0.022,0.023,0.024,0.025,0.026,0.027,0.028,0.029,0.03,0.031,0.032,0.033,0.034,0.035],
"labelExpr":"abs(datum.value*200-round(datum.value*200))<1e-6 ? format(datum.value, '.3~f') : ''",
"labelFont":"Liberation Serif","labelFontSize":24,
"tickSize":{"condition":{"test":"abs(datum.value*200-round(datum.value*200))<1e-6","value":-12},"value":-6},
"labelPadding":26,"title":"(1/Nₑ) dN/(dΩdq) (sr⁻¹)","titleFont":"Liberation Serif","titleFontSize":25,"titleAnchor":"end","titlePadding":3}},
"color":{"field":"a","type":"nominal","scale":{"domain":[20,30,40,50,60,70,80],"range":["#000000","#ff0000","#00ff00","#0000ff","#ffff00","#ff00ff","#00ffff"]},"legend":null}
},
"layer":[
{"data":{"name":"topSim"},"mark":{"type":"line","interpolate":"step-after","strokeWidth":1},
"encoding":{"strokeDash":{"datum":"Geant4 * 1.073","scale":{"domain":["Data","Geant4 * 1.073"],"range":[[1,0],[3,3]]},
"legend":{"orient":"none","legendX":30,"legendY":0,"title":"(a) Scintillator target","titleFont":"Liberation Serif","titleFontSize":25,"titleFontWeight":"normal","titleColor":"black","titlePadding":0,"titleLimit":400,"labelFont":"Liberation Serif","labelFontSize":25,"labelColor":"black","labelLimit":400,"symbolType":"stroke","symbolSize":729,"symbolStrokeColor":"black","symbolStrokeWidth":1,"labelOffset":19,"padding":0}}}},
{"data":{"name":"topData"},"mark":{"type":"line","strokeWidth":1},
"encoding":{"strokeDash":{"datum":"Data"}}}
]},
{"data":{"name":"keys"},"mark":{"type":"text","align":"right","baseline":"middle","fontSize":25,"font":"Liberation Serif","dx":-4},
"encoding":{"x":{"datum":1.2,"type":"quantitative","scale":{"domain":[0,1.2],"nice":false,"zero":false}},
"y":{"field":"a","type":"quantitative","scale":{"domain":[171,11.7],"nice":false,"zero":false},"axis":null},
"text":{"field":"t"},
"color":{"field":"a","type":"nominal","scale":{"domain":[20,30,40,50,60,70,80],"range":["#000000","#ff0000","#00ff00","#0000ff","#ffff00","#ff00ff","#00ffff"]},"legend":null}}}
]},
{"width":504,"height":307,
"title":{"text":"beam","orient":"bottom","anchor":"end","frame":"group","offset":-3,"baseline":"alphabetic","fontSize":17,"font":"Liberation Serif","fontWeight":"normal","color":"black"},
"resolve":{"scale":{"y":"independent"}},
"layer":[
{"encoding":{
"x":{"field":"q","type":"quantitative","scale":{"domain":[0,1.2],"nice":false,"zero":false},
"axis":{"values":[0,0.05,0.1,0.15,0.2,0.25,0.3,0.35,0.4,0.45,0.5,0.55,0.6,0.65,0.7,0.75,0.8,0.85,0.9,0.95,1,1.05,1.1,1.15,1.2],
"labelExpr":"abs(datum.value*5-round(datum.value*5))<1e-6 ? format(datum.value, '.1~f') : ''",
"labelFont":"Liberation Serif","labelFontSize":24,
"tickSize":{"condition":{"test":"abs(datum.value*5-round(datum.value*5))<1e-6","value":-9},"value":-5},
"labelPadding":21,"title":"q = E/E","titleFont":"Liberation Serif","titleFontSize":25,"titleAnchor":"end","titleAlign":"right","titleX":466,"titleY":50,"titleBaseline":"alphabetic","domainColor":"#30c0f0","domainWidth":1.5}},
"y":{"field":"v","type":"quantitative","scale":{"domain":[0,0.035],"nice":false},
"axis":{"values":[0,0.001,0.002,0.003,0.004,0.005,0.006,0.007,0.008,0.009,0.01,0.011,0.012,0.013,0.014,0.015,0.016,0.017,0.018,0.019,0.02,0.021,0.022,0.023,0.024,0.025,0.026,0.027,0.028,0.029,0.03,0.031,0.032,0.033,0.034],
"labelExpr":"abs(datum.value*200-round(datum.value*200))<1e-6 ? format(datum.value, '.3~f') : ''",
"labelFont":"Liberation Serif","labelFontSize":24,
"tickSize":{"condition":{"test":"abs(datum.value*200-round(datum.value*200))<1e-6","value":-12},"value":-6},
"labelPadding":26,"title":"(1/Nₑ) dN/(dΩdq) (sr⁻¹)","titleFont":"Liberation Serif","titleFontSize":25,"titleAnchor":"end","titlePadding":3}},
"color":{"field":"a","type":"nominal","scale":{"domain":[20,30,40,50,60,70,80],"range":["#000000","#ff0000","#00ff00","#0000ff","#ffff00","#ff00ff","#00ffff"]},"legend":null}
},
"layer":[
{"data":{"name":"botSim"},"mark":{"type":"line","interpolate":"step-after","strokeWidth":1},
"encoding":{"strokeDash":{"datum":"Penelope * 1.163","scale":{"domain":["Data","Penelope * 1.163"],"range":[[1,0],[3,3]]},
"legend":{"orient":"none","legendX":30,"legendY":0,"title":"(b) Scintillator target","titleFont":"Liberation Serif","titleFontSize":25,"titleFontWeight":"normal","titleColor":"black","titlePadding":0,"titleLimit":400,"labelFont":"Liberation Serif","labelFontSize":25,"labelColor":"black","labelLimit":400,"symbolType":"stroke","symbolSize":729,"symbolStrokeColor":"black","symbolStrokeWidth":1,"labelOffset":19,"padding":0}}}},
{"data":{"name":"botData"},"mark":{"type":"line","strokeWidth":1},
"encoding":{"strokeDash":{"datum":"Data"}}}
]},
{"data":{"name":"keys"},"mark":{"type":"text","align":"right","baseline":"middle","fontSize":25,"font":"Liberation Serif","dx":-4},
"encoding":{"x":{"datum":1.2,"type":"quantitative","scale":{"domain":[0,1.2],"nice":false,"zero":false}},
"y":{"field":"a","type":"quantitative","scale":{"domain":[171,11.7],"nice":false,"zero":false},"axis":null},
"text":{"field":"t"},
"color":{"field":"a","type":"nominal","scale":{"domain":[20,30,40,50,60,70,80],"range":["#000000","#ff0000","#00ff00","#0000ff","#ffff00","#ff00ff","#00ffff"]},"legend":null}}}
]}
]
}
